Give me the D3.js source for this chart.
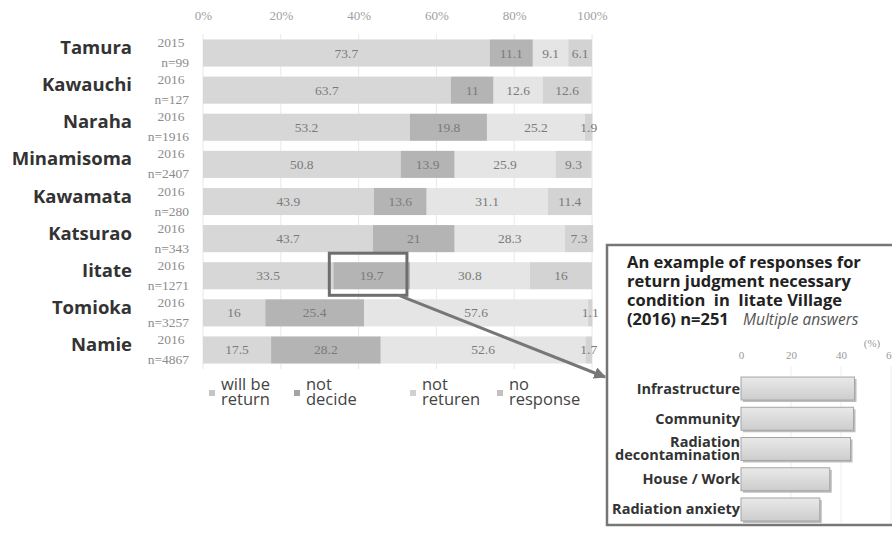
<!DOCTYPE html>
<html>
<head>
<meta charset="utf-8">
<script src="https://cdn.jsdelivr.net/npm/d3@7"></script>
<style>
  html, body { margin: 0; padding: 0; background: #fff; }
  svg { display: block; }
</style>
</head>
<body>
<svg id="chart" width="892" height="535"></svg>
<script>
// Municipalities, survey year and sample size
const towns   = ["Tamura", "Kawauchi", "Naraha", "Minamisoma", "Kawamata", "Katsurao", "Iitate", "Tomioka", "Namie"];
const years   = ["2015", "2016", "2016", "2016", "2016", "2016", "2016", "2016", "2016"];
const samples = ["n=99", "n=127", "n=1916", "n=2407", "n=280", "n=343", "n=1271", "n=3257", "n=4867"];

// Shares of each answer (%)
const willReturn  = [73.7, 63.7, 53.2, 50.8, 43.9, 43.7, 33.5, 16.0, 17.5];
const notDecided  = [11.1, 11.0, 19.8, 13.9, 13.6, 21.0, 19.7, 25.4, 28.2];
const notReturn   = [9.1, 12.6, 25.2, 25.9, 31.1, 28.3, 30.8, 57.6, 52.6];
const noResponse  = [6.1, 12.6, 1.9, 9.3, 11.4, 7.3, 16.0, 1.1, 1.7];

const seriesNames = ["will be|return", "not|decide", "not|returen", "no|response"];
const axisTicks   = [0, 20, 40, 60, 80, 100];

// Iitate: conditions needed before deciding to return (multiple answers, %)
const conditions     = ["Infrastructure", "Community", "Radiation|decontamination", "House / Work", "Radiation anxiety"];
const conditionShare = [45.4, 45.0, 43.8, 35.5, 31.5];
const insetTicks     = [0, 20, 40, 60];

const svg = d3.select("#chart");
const serif = "'Liberation Serif', 'DejaVu Serif', serif";
const sans  = "'Open Sans', 'Noto Sans', sans-serif";

// ---------- main stacked bar chart ----------
const x = d3.scaleLinear().domain([0, 100]).range([203, 592]);
const y = d3.scaleBand().domain(towns).range([34.45, 368.55]).paddingInner(0.27).paddingOuter(0.135);

const segColors = ["#d7d7d7", "#b4b4b4", "#e5e5e5", "#d3d3d3"];
const rows = towns.map((t, i) => ({
  town: t, year: years[i], n: samples[i],
  v0: willReturn[i], v1: notDecided[i], v2: notReturn[i], v3: noResponse[i]
}));
const stack = d3.stack().keys(["v0", "v1", "v2", "v3"])(rows);

// vertical grid lines
svg.append("g").selectAll("line").data(axisTicks).join("line")
  .attr("x1", d => x(d)).attr("x2", d => x(d))
  .attr("y1", 34).attr("y2", 369)
  .attr("stroke", "#e8e8e8").attr("stroke-width", 1);

// top axis
const axis = svg.append("g").attr("transform", "translate(0,20)")
  .call(d3.axisTop(x).tickValues(axisTicks).tickFormat(d => d + "%").tickSize(0).tickPadding(0));
axis.select(".domain").remove();
axis.selectAll("text").attr("font-family", serif).attr("font-size", 13).attr("fill", "#a0a0a0");

// segments
const layers = svg.append("g").selectAll("g").data(stack).join("g")
  .attr("fill", (d, i) => segColors[i]);
layers.selectAll("rect").data(d => d).join("rect")
  .attr("x", d => x(d[0]))
  .attr("width", d => x(d[1]) - x(d[0]))
  .attr("y", d => y(d.data.town))
  .attr("height", y.bandwidth());

// value labels
const labels = svg.append("g").attr("font-family", serif).attr("font-size", 13.5).attr("fill", "#7a7a7a")
  .attr("text-anchor", "middle");
stack.forEach(layer => {
  labels.selectAll(null).data(layer).join("text")
    .attr("x", d => x((d[0] + d[1]) / 2))
    .attr("y", d => y(d.data.town) + y.bandwidth() / 2 + 4.5)
    .text(d => d3.format("~")(+(d[1] - d[0]).toFixed(1)));
});

// town names
svg.append("g").selectAll("text").data(rows).join("text")
  .attr("x", 132)
  .attr("y", d => y(d.town) + y.bandwidth() / 2 + 1)
  .attr("text-anchor", "end")
  .attr("font-family", sans).attr("font-weight", 700).attr("font-size", 18.5)
  .attr("fill", "#333")
  .text(d => d.town);

// survey year and sample size
const meta = svg.append("g").attr("font-family", serif).attr("font-size", 13.5).attr("fill", "#8c8c8c");
meta.selectAll(".yr").data(rows).join("text").attr("class", "yr")
  .attr("x", 171).attr("text-anchor", "middle")
  .attr("y", d => y(d.town) + y.bandwidth() / 2 - 6)
  .text(d => d.year);
meta.selectAll(".n").data(rows).join("text").attr("class", "n")
  .attr("x", 189).attr("text-anchor", "end")
  .attr("y", d => y(d.town) + y.bandwidth() / 2 + 14)
  .text(d => d.n);

// legend
const legendX = [212, 297, 413, 500];
const legend = svg.append("g").selectAll("g").data(seriesNames).join("g")
  .attr("transform", (d, i) => `translate(${legendX[i]},0)`);
legend.append("rect").attr("x", -3).attr("y", 390).attr("width", 6).attr("height", 6)
  .attr("fill", (d, i) => d3.color(segColors[i]).darker(0.25));
legend.each(function (d) {
  const parts = d.split("|");
  d3.select(this).selectAll("text").data(parts).join("text")
    .attr("x", 9).attr("y", (p, k) => 390 + k * 15)
    .attr("font-family", sans).attr("font-size", 16.5).attr("fill", "#444")
    .text(p => p);
});

// ---------- highlight of Iitate "not decide" and call-out ----------
const iitate = rows.find(r => r.town === "Iitate");
const hx0 = x(iitate.v0) - 4, hx1 = x(iitate.v0 + iitate.v1) - 3;
const hy0 = y("Iitate") - 9, hy1 = y("Iitate") + y.bandwidth() + 6;
svg.append("rect").attr("x", hx0).attr("y", hy0).attr("width", hx1 - hx0).attr("height", hy1 - hy0)
  .attr("fill", "none").attr("stroke", "#6e6e6e").attr("stroke-width", 3);

svg.append("defs").append("marker").attr("id", "arrow")
  .attr("viewBox", "0 0 10 10").attr("refX", 9).attr("refY", 5)
  .attr("markerWidth", 4).attr("markerHeight", 4).attr("orient", "auto")
  .append("path").attr("d", "M0,0L10,5L0,10Z").attr("fill", "#777");

// ---------- inset: return conditions in Iitate ----------
const inset = svg.append("g");
inset.append("rect").attr("x", 607).attr("y", 245).attr("width", 300).attr("height", 280)
  .attr("fill", "#fff").attr("stroke", "#767676").attr("stroke-width", 2.5);

svg.append("line").attr("x1", hx1 - 8).attr("y1", hy1)
  .attr("x2", 605).attr("y2", 377)
  .attr("stroke", "#777").attr("stroke-width", 3).attr("marker-end", "url(#arrow)");

const titleLines = ["An example of responses for", "return judgment necessary", "condition  in  Iitate Village", "(2016) n=251"];
inset.selectAll(".title").data(titleLines).join("text").attr("class", "title")
  .attr("x", 627).attr("y", (d, i) => 268 + i * 19)
  .attr("font-family", sans).attr("font-weight", 700).attr("font-size", 16.5)
  .attr("fill", "#222").attr("xml:space", "preserve").style("white-space", "pre")
  .text(d => d);
inset.append("text").attr("x", 743).attr("y", 325)
  .attr("font-family", sans).attr("font-style", "italic").attr("font-size", 15.5)
  .attr("fill", "#555").text("Multiple answers");

const ix = d3.scaleLinear().domain([0, 60]).range([741, 891]);
const iy = d3.scaleBand().domain(conditions).range([373.4, 524.6]).paddingInner(0.24).paddingOuter(0.12);

inset.append("g").selectAll("line").data(insetTicks.slice(1)).join("line")
  .attr("x1", d => ix(d)).attr("x2", d => ix(d)).attr("y1", 366).attr("y2", 523)
  .attr("stroke", "#eeeeee");

const iaxis = inset.append("g").attr("transform", "translate(0,356)")
  .call(d3.axisTop(ix).tickValues(insetTicks).tickSize(0).tickPadding(0));
iaxis.select(".domain").remove();
iaxis.selectAll("text").attr("font-family", serif).attr("font-size", 11).attr("fill", "#999").attr("dy", "0.3em");
inset.append("text").attr("x", 872).attr("y", 347).attr("text-anchor", "middle")
  .attr("font-family", serif).attr("font-size", 11).attr("fill", "#999").text("(%)");

const grad = svg.select("defs").append("linearGradient").attr("id", "barGrad")
  .attr("x1", 0).attr("y1", 0).attr("x2", 0).attr("y2", 1);
grad.append("stop").attr("offset", "0%").attr("stop-color", "#e9e9e9");
grad.append("stop").attr("offset", "100%").attr("stop-color", "#cdcdcd");

const insetData = conditions.map((c, i) => ({ c, v: conditionShare[i] }));
inset.selectAll(".shadow").data(insetData).join("rect").attr("class", "shadow")
  .attr("x", ix(0) + 2).attr("y", d => iy(d.c) + 2)
  .attr("width", d => ix(d.v) - ix(0)).attr("height", iy.bandwidth())
  .attr("fill", "#bdbdbd");
inset.selectAll(".bar").data(insetData).join("rect").attr("class", "bar")
  .attr("x", ix(0)).attr("y", d => iy(d.c))
  .attr("width", d => ix(d.v) - ix(0)).attr("height", iy.bandwidth())
  .attr("fill", "url(#barGrad)").attr("stroke", "#a5a5a5").attr("stroke-width", 1);

inset.selectAll(".lbl").data(insetData).join("text").attr("class", "lbl")
  .attr("text-anchor", "end").attr("font-family", sans).attr("font-weight", 700)
  .attr("font-size", 14.5).attr("fill", "#333")
  .each(function (d) {
    const parts = d.c.split("|");
    const cy = iy(d.c) + iy.bandwidth() / 2;
    const sel = d3.select(this);
    parts.forEach((p, k) => {
      sel.append("tspan").attr("x", 740)
        .attr("y", parts.length === 1 ? cy + 5 : cy - 2 + k * 12.5)
        .text(p);
    });
  });
</script>
</body>
</html>
